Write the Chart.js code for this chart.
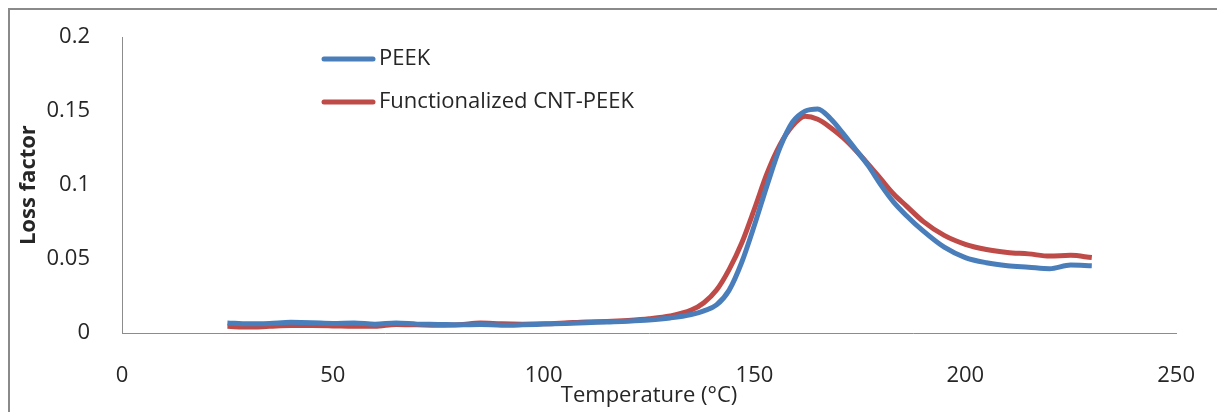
<!DOCTYPE html>
<html>
<head>
<meta charset="utf-8">
<script src="https://cdn.jsdelivr.net/npm/chart.js"></script>
<style>
  html, body { margin: 0; padding: 0; background: #fff; overflow: hidden; }
  #wrap { width: 1217px; height: 412px; position: relative; }
</style>
</head>
<body>
<div id="wrap"><canvas id="loss"></canvas></div>
<script>
const temperature = [25, 30, 35, 40, 45, 50, 55, 60, 65, 70, 75, 80, 85, 90, 95, 100, 105, 110, 115, 120, 125, 130, 135, 138, 141, 144, 147, 150, 153, 156, 159, 162, 165, 168, 171, 174, 177, 180, 183, 186, 190, 195, 200, 205, 210, 215, 220, 225, 230];
const peek = [0.0068, 0.0062, 0.0065, 0.0072, 0.007, 0.0065, 0.0068, 0.006, 0.0068, 0.006, 0.0058, 0.0055, 0.0058, 0.0052, 0.0055, 0.006, 0.0065, 0.007, 0.0075, 0.008, 0.0088, 0.0102, 0.0125, 0.015, 0.019, 0.029, 0.048, 0.073, 0.1, 0.125, 0.1425, 0.15, 0.1515, 0.145, 0.135, 0.124, 0.113, 0.1, 0.0885, 0.0795, 0.069, 0.058, 0.051, 0.0475, 0.0455, 0.0445, 0.0435, 0.046, 0.0455];
const cntPeek = [0.0045, 0.004, 0.0045, 0.005, 0.005, 0.0048, 0.0045, 0.0045, 0.0058, 0.0055, 0.0052, 0.0055, 0.0068, 0.0062, 0.006, 0.0062, 0.0068, 0.0075, 0.0078, 0.0085, 0.0096, 0.0115, 0.0155, 0.0205, 0.029, 0.043, 0.061, 0.084, 0.108, 0.127, 0.14, 0.1465, 0.1445, 0.139, 0.132, 0.1235, 0.114, 0.104, 0.094, 0.086, 0.0755, 0.066, 0.06, 0.0565, 0.0545, 0.0535, 0.052, 0.0525, 0.051];
const seriesNames = ["PEEK", "Functionalized CNT-PEEK"];

const FONT = "'Open Sans', Lato, sans-serif";
const TEXT = "#262626";

const toPoints = (ys) => temperature.map((t, i) => ({ x: t, y: ys[i] }));

// left/top frame and the vertical legend inside the plot
const framePlugin = {
  id: "frame",
  beforeDraw(chart) {
    const ctx = chart.ctx;
    ctx.save();
    ctx.strokeStyle = "#8a8a8a";
    ctx.lineWidth = 2;
    ctx.beginPath();
    ctx.moveTo(9, chart.height);
    ctx.lineTo(9, 9);
    ctx.lineTo(chart.width, 9);
    ctx.stroke();
    ctx.restore();
  },
  afterDraw(chart) {
    const ctx = chart.ctx;
    ctx.save();
    chart.data.datasets.forEach((ds, i) => {
      const y = 59 + i * 43;
      ctx.strokeStyle = ds.borderColor;
      ctx.lineWidth = 5;
      ctx.lineCap = "round";
      ctx.beginPath();
      ctx.moveTo(324, y);
      ctx.lineTo(373, y);
      ctx.stroke();
      ctx.fillStyle = TEXT;
      ctx.font = "22px " + FONT;
      ctx.textBaseline = "middle";
      ctx.fillText(ds.label, 379, y);
    });
    ctx.restore();
  }
};

new Chart(document.getElementById("loss"), {
  type: "line",
  data: {
    datasets: [
      {
        label: seriesNames[0],
        data: toPoints(peek),
        borderColor: "#4A7EBB",
        borderWidth: 5,
        pointRadius: 0,
        cubicInterpolationMode: "monotone",
        fill: false,
      },
      {
        label: seriesNames[1],
        data: toPoints(cntPeek),
        borderColor: "#BE4B48",
        borderWidth: 5,
        pointRadius: 0,
        cubicInterpolationMode: "monotone",
        fill: false,
      },
    ],
  },
  options: {
    responsive: true,
    maintainAspectRatio: false,
    animation: false,
    layout: { padding: { top: 30, right: 34, left: 0, bottom: 0 } },
    plugins: {
      legend: { display: false },
      tooltip: { enabled: false },
    },
    scales: {
      x: {
        type: "linear",
        min: 0,
        max: 250,
        ticks: { stepSize: 50, padding: 22, color: TEXT, font: { family: FONT, size: 22 } },
        grid: { display: false },
        border: { display: true, color: "#8c8c8c", width: 1 },
        title: {
          display: true,
          text: "Temperature (°C)",
          color: TEXT,
          font: { family: FONT, size: 22 },
          padding: { top: 0, bottom: 3 },
        },
        afterFit(scale) { scale.height = 79; },
      },
      y: {
        min: 0,
        max: 0.2,
        ticks: {
          stepSize: 0.05,
          padding: 24,
          color: TEXT,
          font: { family: FONT, size: 22 },
          callback: (v) => String(+v.toFixed(2)),
        },
        grid: { display: false },
        border: { display: true, color: "#8c8c8c", width: 1 },
        title: {
          display: true,
          text: "Loss factor",
          color: TEXT,
          font: { family: FONT, size: 22, weight: "bold" },
          padding: { top: 16, bottom: 0 },
        },
        afterFit(scale) { scale.width = 122; },
      },
    },
  },
  plugins: [framePlugin],
});
</script>
</body>
</html>
